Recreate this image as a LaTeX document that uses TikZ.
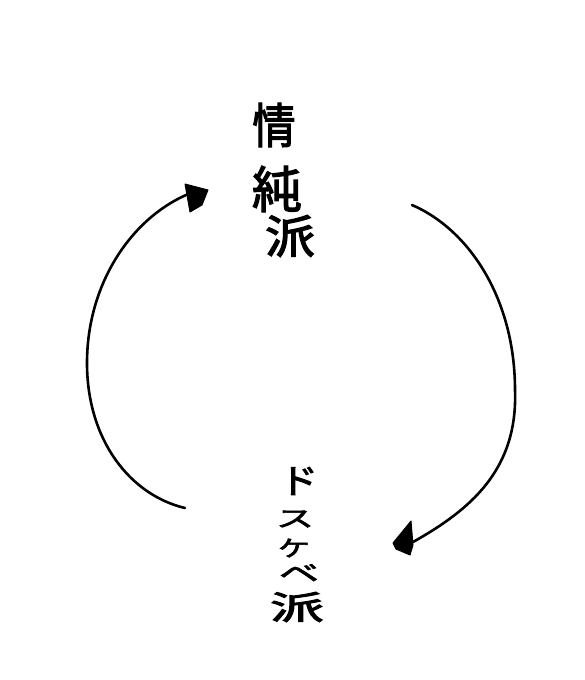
\documentclass[tikz,border=0pt]{standalone}
\usepackage{fontspec}
\newfontfamily\jp[FakeBold=2.5]{Noto Sans CJK JP}
\begin{document}
\begin{tikzpicture}[x=1pt,y=-1pt,
  ch/.style={inner sep=0pt,font=\jp\fontsize{#1}{#1}\selectfont},
  curve/.style={line width=2.6pt,line cap=round,line join=round},
  head/.style={fill=black,draw=black,line width=1pt,line join=round}]
\useasboundingbox[fill=white] (0,0) rectangle (584,680);
% top label
\node[ch=48,xscale=0.9] (t1) at (274,125) {情};
\node[ch=50] (t2) at (277,189) {純};
\node[ch=50,yscale=0.9] (t3) at (290,236) {派};
% bottom label
\node[ch=38,yscale=0.9] (b1) at (299,481) {ド};
\node[ch=38,yscale=0.6] (b2) at (295,519) {ス};
\node[ch=32,yscale=0.7] (b3) at (294,548) {ケ};
\node[ch=40,yscale=0.6] (b4) at (299,573) {ベ};
\node[ch=54,yscale=0.6] (b5) at (297,607) {派};
% left arrow
\coordinate (ls) at (185,508);
\coordinate (lm) at (87,363);
\coordinate (le) at (186,195);
\draw[curve] (ls) .. controls (130,495) and (87,440) .. (lm)
                  .. controls (87,285) and (130,220) .. (le);
\filldraw[head] (185,184) -- (208,190) -- (202,205) -- (190,212) -- cycle;
% right arrow
\coordinate (rs) at (412,205);
\coordinate (rm) at (515,390);
\coordinate (re) at (413,542);
\draw[curve] (rs) .. controls (470,230) and (515,300) .. (rm)
                  .. controls (518,470) and (470,510) .. (re);
\filldraw[head] (411,521) -- (413,545) -- (410,555) -- (396,549) -- (393,543) -- cycle;
\end{tikzpicture}
\end{document}
